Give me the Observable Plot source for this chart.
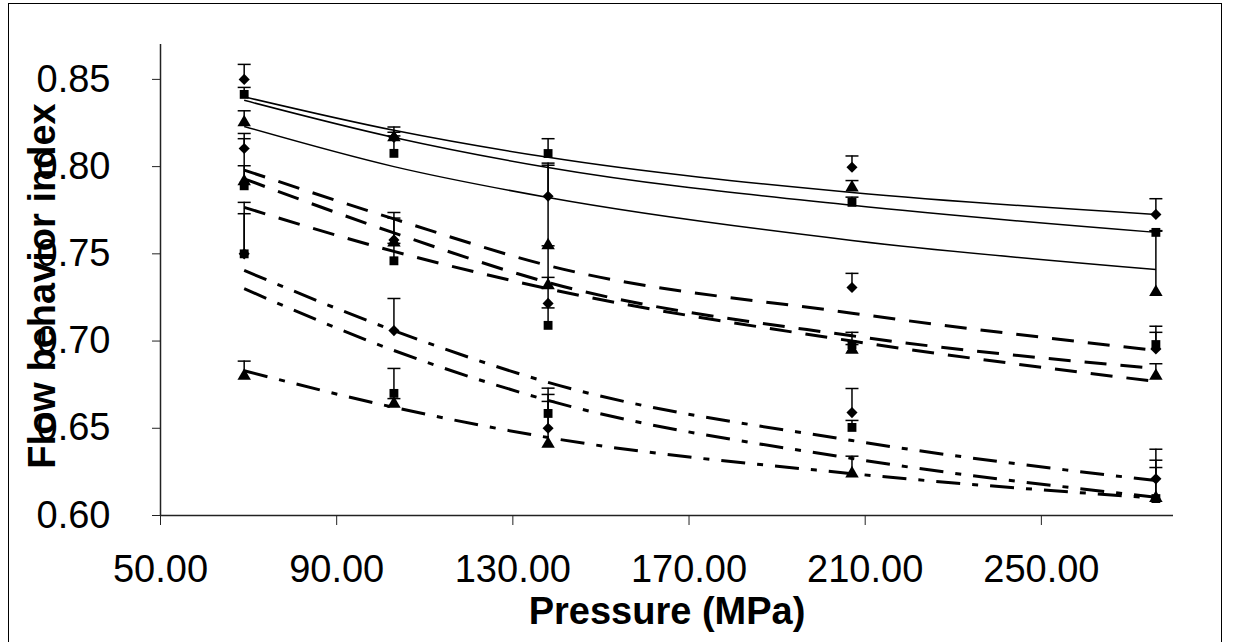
<!DOCTYPE html>
<html>
<head>
<meta charset="utf-8">
<script src="https://cdn.jsdelivr.net/npm/d3@7"></script>
<script src="https://cdn.jsdelivr.net/npm/@observablehq/plot@0.6"></script>
<style>
  html, body { margin: 0; padding: 0; background: #fff; }
  #wrap { position: relative; width: 1236px; height: 642px; overflow: hidden; }
  #border { position: absolute; left: 8px; top: 3px; width: 1214px; height: 700px; border: 1.5px solid #000; box-sizing: border-box; pointer-events: none; }
  svg { font-family: "Liberation Sans", Arial, sans-serif; }
</style>
</head>
<body>
<div id="wrap"><div id="border"></div></div>
<script>
// ---- data ----
const pressure = [69, 103, 138, 207, 276];
const xTicks = [50, 90, 130, 170, 210, 250];
const yTicks = [0.60, 0.65, 0.70, 0.75, 0.80, 0.85];

// measured flow behavior index (markers) and upper error bar length
const diamondSolid    = [0.850, 0.8167, 0.783, 0.7996, 0.7726];
const diamondSolidErr = [0.0086, 0.006, 0.019, 0.0065, 0.009];
const squareSolid     = [0.8414, 0.8076, 0.8075, 0.7795, 0.7623];
const squareSolidErr  = [0.004, 0.010, 0.0085, 0.003, 0.001];
const triangleSolid   = [0.8253, 0.8167, 0.7548, 0.788, 0.728];
const triangleSolidErr= [0.0067, 0.003, 0.046, 0.004, 0.035];

const diamondDash     = [0.8104, 0.758, 0.7216, 0.7307, 0.6955];
const diamondDashErr  = [0.0086, 0.0157, 0.033, 0.0081, 0.0095];
const squareDash      = [0.789, 0.746, 0.709, 0.698, 0.698];
const squareDashErr   = [0.027, 0.010, 0.010, 0.007, 0.0105];
const triangleDash    = [0.7915, 0.7565, 0.7319, 0.695, 0.680];
const triangleDashErr = [0.009, 0.014, 0.0046, 0.003, 0.007];

const diamondDot      = [0.750, 0.706, 0.650, 0.659, 0.621];
const diamondDotErr   = [0.0295, 0.0184, 0.0194, 0.0138, 0.017];
const squareDot       = [0.750, 0.670, 0.6585, 0.6505, 0.6097];
const squareDotErr    = [0.023, 0.0143, 0.0145, 0.004, 0.022];
const triangleDot     = [0.680, 0.664, 0.641, 0.624, 0.610];
const triangleDotErr  = [0.0085, 0.003, 0.0244, 0.010, 0.0175];

// fitted curves
const fitSolid1 = [0.840, 0.8208, 0.8053, 0.7852, 0.7726];
const fitSolid2 = [0.838, 0.8167, 0.7995, 0.7778, 0.7623];
const fitSolid3 = [0.823, 0.800, 0.7823, 0.7577, 0.741];
const fitDash1  = [0.798, 0.770, 0.7433, 0.716, 0.6946];
const fitDash2  = [0.793, 0.762, 0.7336, 0.703, 0.6843];
const fitDash3  = [0.7766, 0.7514, 0.730, 0.700, 0.6768];
const fitDot1   = [0.7405, 0.706, 0.6763, 0.643, 0.620];
const fitDot2   = [0.730, 0.6946, 0.666, 0.6327, 0.6105];
const fitDot3   = [0.683, 0.662, 0.6447, 0.624, 0.610];

// ---- build tables ----
const seriesDefs = [
  ["diamond2", diamondSolid, diamondSolidErr],
  ["square", squareSolid, squareSolidErr],
  ["triangle", triangleSolid, triangleSolidErr],
  ["diamond2", diamondDash, diamondDashErr],
  ["square", squareDash, squareDashErr],
  ["triangle", triangleDash, triangleDashErr],
  ["diamond2", diamondDot, diamondDotErr],
  ["square", squareDot, squareDotErr],
  ["triangle", triangleDot, triangleDotErr]
];
const points = [];
seriesDefs.forEach(([sym, vals, errs], si) => {
  vals.forEach((v, i) => points.push({p: pressure[i], v, top: v + errs[i], sym, si}));
});

const fitDefs = [
  [fitSolid1, "solid"], [fitSolid2, "solid"], [fitSolid3, "solid"],
  [fitDash1, "dash"], [fitDash2, "dash"], [fitDash3, "dash"],
  [fitDot1, "dot"], [fitDot2, "dot"], [fitDot3, "dot"]
];
const fits = fitDefs.map(([vals, kind], k) => ({kind, pts: vals.map((v, i) => ({p: pressure[i], v, k}))}));

const capSymbol = {
  draw(context, size) {
    const r = Math.sqrt(size / Math.PI);
    context.moveTo(-r, 0);
    context.lineTo(r, 0);
  }
};

const lineMarks = fits.map(f => Plot.line(f.pts, {
  x: "p", y: "v", curve: "monotone-x", stroke: "#000",
  strokeWidth: f.kind === "solid" ? 1.5 : 3,
  strokeDasharray: f.kind === "solid" ? null : (f.kind === "dash" ? "22,14" : "24,12,6,12"),
  strokeLinecap: "butt"
}));

const chart = Plot.plot({
  width: 1236,
  height: 642,
  marginLeft: 160,
  marginRight: 63,
  marginTop: 44,
  marginBottom: 127,
  style: {fontFamily: "Liberation Sans, Arial, sans-serif", fontSize: "38px", background: "transparent"},
  x: {domain: [50, 280]},
  y: {domain: [0.60, 0.87]},
  marks: [
    ...lineMarks,
    Plot.ruleX(points, {x: "p", y1: "v", y2: "top", stroke: "#000", strokeWidth: 1.5}),
    Plot.dot(points, {x: "p", y: "top", symbol: capSymbol, r: 6.5, stroke: "#000", strokeWidth: 1.5}),
    Plot.dot(points, {x: "p", y: "v", symbol: "sym", r: 5, fill: "#000", stroke: "none"}),
    Plot.ruleX([50], {stroke: "#222", strokeWidth: 1.5}),
    Plot.ruleY([0.60], {stroke: "#222", strokeWidth: 1.5}),
    Plot.axisY(yTicks, {tickFormat: d3.format(".2f"), tickSize: 8, tickPadding: 42, fontSize: 38, label: null, stroke: "#222"}),
    Plot.axisX(xTicks, {tickFormat: d3.format(".2f"), tickSize: 10, tickPadding: 30, fontSize: 38, label: null, stroke: "#222"}),
    Plot.text(["Pressure (MPa)"], {frameAnchor: "bottom", lineAnchor: "bottom", dy: 108, fontSize: 38, fontWeight: "bold", fill: "#000"}),
    Plot.text(["Flow behavior index"], {frameAnchor: "left", textAnchor: "middle", dx: -118, dy: 6, rotate: -90, fontSize: 38, fontWeight: "bold", fill: "#000"})
  ]
});
document.getElementById("wrap").appendChild(chart);
</script>
</body>
</html>
